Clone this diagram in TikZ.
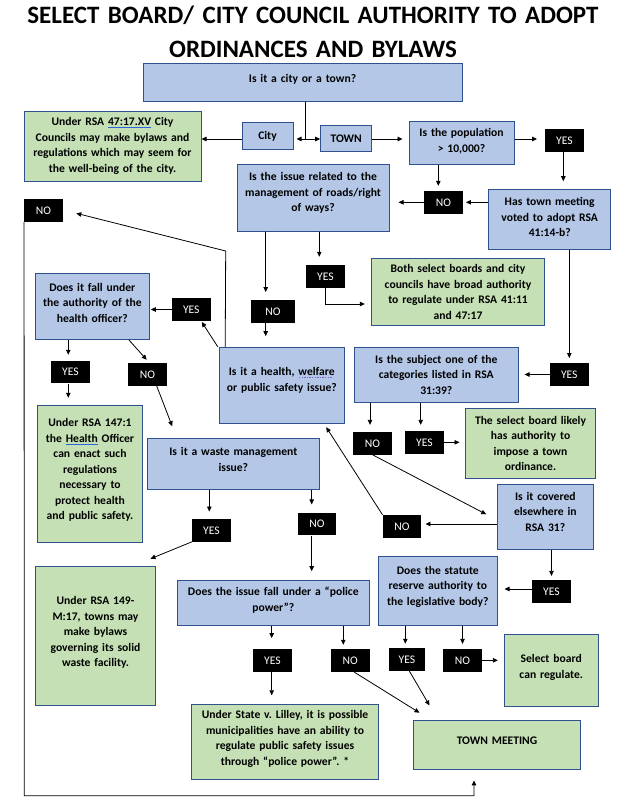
\documentclass[tikz,border=0pt]{standalone}
\usepackage{fontspec}
\setmainfont{Carlito}
\usetikzlibrary{arrows.meta}
\definecolor{qblue}{HTML}{B4C7E7}
\definecolor{agreen}{HTML}{C5E0B4}
\definecolor{bord}{HTML}{2F528F}
\definecolor{ulblue}{HTML}{2E62D9}
\definecolor{ulpurple}{HTML}{7B5FD9}
\newcommand\bodyfont{\fontsize{11.6}{15.5}\selectfont\bfseries}
\newcommand\lblfont{\fontsize{11.6}{15.5}\selectfont}
\newcommand\titlefont{\fontsize{25}{34}\selectfont\bfseries}
\newsavebox\myulbox
\newcommand\bul[1]{\sbox\myulbox{#1}\rlap{\textcolor{ulblue}{\rule[-2.2pt]{\wd\myulbox}{0.8pt}}}\usebox\myulbox}
\newcommand\dul[1]{\sbox\myulbox{#1}\rlap{\textcolor{ulpurple}{\hbox to \wd\myulbox{\leaders\hbox to 2.6pt{\hss\rule[-2.4pt]{1.4pt}{0.8pt}\hss}\hfill}}}\usebox\myulbox}
\tikzset{
  x=1pt, y=-1pt,
  basebox/.style={draw=bord, line width=1pt, inner sep=0pt, align=center, font=\bodyfont},
  qbox/.style={basebox, fill=qblue},
  abox/.style={basebox, fill=agreen},
  sz/.style n args={2}{minimum width=#1pt, minimum height=#2pt, text width=#1pt-4pt},
  bpad/.style={execute at end node={\par\vspace*{#1pt}}},
  lbl/.style={fill=black, text=white, inner sep=0pt, font=\lblfont, minimum width=38.5pt, minimum height=22.5pt},
  arr/.style={-{Triangle[length=5pt,width=4.5pt]}, line width=0.8pt},
  plain/.style={line width=0.8pt},
}
\begin{document}
\begin{tikzpicture}
\useasboundingbox (0,0) rectangle (630,802);
\fill[white] (0,0) rectangle (630,802);

\node[font=\titlefont, text width=628pt, align=center, anchor=base] (title) at (313,23.5)
  {SELECT BOARD/ CITY COUNCIL AUTHORITY TO ADOPT\\ORDINANCES AND BYLAWS};

% question / answer boxes
\node[qbox, sz={319}{38}, bpad=8] (q1) at (302.5,83) {Is it a city or a town?};
\node[qbox, minimum width=51pt, minimum height=27pt] (city) at (267.5,136.5) {City};
\node[abox, sz={177}{70}, bpad=2] (g1) at (112.5,147)
  {Under RSA \bul{47:17.XV} City\\Councils may make bylaws and\\regulations which may seem for\\the well-being of the city.};
\node[qbox, minimum width=51pt, minimum height=25.6pt] (town) at (346.2,138.5) {TOWN};
\node[qbox, sz={105}{42.6}, bpad=4] (pop) at (461.5,143) {Is the population\\> 10,000?};
\node[qbox, sz={122}{59.6}, bpad=5] (hastown) at (549.7,219.5) {Has town meeting\\voted to adopt RSA\\41:14-b?};
\node[qbox, sz={152}{66}, bpad=10] (roads) at (313,198) {Is the issue related to the\\management of roads/right\\of ways?};
\node[abox, sz={173.4}{67}] (g2) at (458,291.8) {Both select boards and city\\councils have broad authority\\to regulate under RSA 41:11\\and 47:17};
\node[qbox, sz={164}{55}] (subject) at (436.3,374.8) {Is the subject one of the\\categories listed in RSA\\31:39?};
\node[abox, sz={129.6}{70}] (g3) at (530.5,443.3) {The select board likely\\has authority to\\impose a town\\ordinance.};
\node[qbox, sz={96}{65}, bpad=10] (covered) at (545.3,516.8) {Is it covered\\elsewhere in\\RSA 31?};
\node[qbox, sz={119}{69.3}, bpad=9] (statute) at (437.8,591.3) {Does the statute\\reserve authority to\\the legislative body?};
\node[abox, sz={94.3}{71.7}, bpad=6] (select) at (551.2,670.2) {Select board\\can regulate.};
\node[abox, sz={167.4}{49.3}, bpad=9] (tm) at (497,745.3) {TOWN MEETING};
\node[qbox, sz={125}{76}, bpad=10] (health) at (281.8,385.3) {Is it a health, \dul{welfare}\\or public safety issue?};
\node[qbox, sz={114}{66}, bpad=7] (hq) at (92.3,306.3) {Does it fall under\\the authority of the\\health officer?};
\node[abox, sz={105.4}{136.7}, bpad=8] (gh) at (90,474.3)
  {Under RSA 147:1\\the \bul{Health} Officer\\can enact such\\regulations\\necessary to\\protect health\\and public safety.};
\node[qbox, sz={172}{51}, bpad=9] (waste) at (233.3,463.8) {Is it a waste management\\issue?};
\node[abox, sz={120.4}{139.3}, bpad=7] (g149) at (95.5,636.3)
  {Under RSA 149-\\M:17, towns may\\make bylaws\\governing its solid\\waste facility.};
\node[qbox, sz={192}{45}, bpad=6] (police) at (273.3,603.2) {Does the issue fall under a “police\\power”?};
\node[abox, sz={186.6}{75.3}, bpad=6] (lilley) at (285,741.7)
  {Under State v.\ Lilley, it is possible\\municipalities have an ability to\\regulate public safety issues\\through “police power”.\ *};

% YES / NO labels
\node[lbl] (yes1) at (564.5,140.5) {YES};
\node[lbl] (no1) at (443.5,202.3) {NO};
\node[lbl] (noTL) at (43.5,210.5) {NO};
\node[lbl, minimum width=44pt] (no2) at (273,311.5) {NO};
\node[lbl] (yes2) at (325.5,276.5) {YES};
\node[lbl] (yes3) at (569.3,374.5) {YES};
\node[lbl] (no3) at (372.5,443.3) {NO};
\node[lbl] (yes4) at (424.5,442.3) {YES};
\node[lbl] (no4) at (402,526.3) {NO};
\node[lbl] (yes5) at (551.5,591.3) {YES};
\node[lbl, minimum width=36pt] (yes6) at (407,659.5) {YES};
\node[lbl] (no5) at (462.5,660.3) {NO};
\node[lbl] (yes7) at (191.3,309.5) {YES};
\node[lbl] (yes8) at (70.5,372.2) {YES};
\node[lbl] (no6) at (147.5,374.5) {NO};
\node[lbl] (yes9) at (211.5,530.3) {YES};
\node[lbl] (no7) at (317,524.2) {NO};
\node[lbl] (yes10) at (272.5,660.3) {YES};
\node[lbl] (no8) at (350.3,660.5) {NO};

% connectors
\coordinate (split) at (305.7,139);
\draw[plain] (q1.south -| split) -- (split);
\draw[arr, shorten >=3pt] (split) -- (split -| city.east);
\draw[arr] (split) -- (split -| town.west);
\draw[arr] (city.west |- split) -- (split -| g1.east);
\draw[arr, shorten >=6pt] (town.east |- split) -- (split -| pop.west);
\draw[arr, shorten >=8pt] (pop.east |- split) -- (split -| yes1.west);
\draw[arr, shorten >=8pt] ([xshift=-1.2pt]yes1.south) -- ([xshift=-1.2pt]yes1.south |- hastown.north);
\draw[arr, shorten >=5pt] ([xshift=-5.2pt]no1.north |- pop.south) -- ([xshift=-5.2pt]no1.north);
\draw[arr, shorten >=3pt] (hastown.west |- no1.east) -- (no1.east);
\draw[arr, shorten >=9pt] (no1.west) -- (no1.west -| roads.east);
\draw[arr, shorten >=8pt] ([xshift=-7.3pt]no2.north |- roads.south) -- ([xshift=-7.3pt]no2.north);
\draw[arr, shorten >=10.6pt] ([xshift=-7.3pt]no2.south) -- ([xshift=-7.3pt]no2.south |- health.north);
\draw[arr, shorten >=8.3pt] ([xshift=-6.2pt]yes2.north |- roads.south) -- ([xshift=-6.2pt]yes2.north);
\draw[arr, shorten >=6pt] (yes2.south) |- ([yshift=-12.2pt]g2.west);
\draw[arr, shorten >=5pt] (yes3.north |- hastown.south) -- (yes3.north);
\draw[arr, shorten >=5.7pt] (yes3.west) -- (yes3.west -| subject.east);
\draw[arr, shorten >=7pt] ([xshift=-2.5pt]no3.north |- subject.south) -- ([xshift=-2.5pt]no3.north);
\draw[arr, shorten >=6pt] ([xshift=-3.8pt]yes4.north |- subject.south) -- ([xshift=-3.8pt]yes4.north);
\draw[arr, shorten >=5.7pt] (yes4.east) -- (yes4.east -| g3.west);
\draw[arr] (no3.south) -- ([xshift=-10.6pt,yshift=2.5pt]covered.west);
\draw[arr, shorten >=4pt] ([yshift=-7.2pt]covered.west) -- ([yshift=-7.2pt]covered.west -| no4.east);
\draw[arr] (no4.north west) -- ([xshift=-18.6pt,yshift=-3.4pt]health.south east);
\draw[arr, shorten >=4pt] (yes5.north |- covered.south) -- (yes5.north);
\draw[arr, shorten >=6.7pt] ([yshift=2.3pt]yes5.west) -- ([yshift=2.3pt]yes5.west -| statute.east);
\draw[arr, shorten >=4.3pt] ([xshift=-1.7pt]yes6.north |- statute.south) -- ([xshift=-1.7pt]yes6.north);
\draw[arr, shorten >=5pt] (no5.north |- statute.south) -- (no5.north);
\draw[arr, shorten >=5.7pt] (no5.east) -- (no5.east -| select.west);
\draw[arr] ([xshift=3.7pt]no8.south) -- ([xshift=6.7pt,yshift=7.4pt]tm.north west);
\draw[arr] ([xshift=2.3pt]yes6.south) -- ([xshift=16.7pt,yshift=14.7pt]tm.north west);
\coordinate (corner) at (24.3,795.7);
\draw[arr, shorten >=10pt] (noTL.south west) -- (corner) -| ([xshift=-23pt]tm.south);
\coordinate (bend) at (225.7,251);
\draw[arr] ([xshift=6.4pt]health.north west) -- (bend) -- ([xshift=13.3pt,yshift=-2.8pt]noTL.east);
\draw[arr] ([xshift=-1pt]health.north west) -- ([xshift=-9pt,yshift=-1pt]yes7.south east);
\draw[arr, shorten >=1pt] (yes7.west) -- (yes7.west -| hq.east);
\draw[arr, shorten >=6pt] ([xshift=-2.2pt]yes8.north |- hq.south) -- ([xshift=-2.2pt]yes8.north);
\draw[arr, shorten >=7.7pt] ([xshift=-2.2pt]yes8.south) -- ([xshift=-2.2pt]yes8.south |- gh.north);
\draw[arr] ([xshift=-21pt]hq.south east) -- ([xshift=-0.8pt,yshift=3.3pt]no6.north);
\draw[arr] ([xshift=9.2pt]no6.south) -- ([xshift=25.4pt,yshift=11.6pt]waste.north west);
\draw[arr, shorten >=7.3pt] ([xshift=-2.2pt]yes9.north |- waste.south) -- ([xshift=-2.2pt]yes9.north);
\draw[arr, shorten >=8.3pt] ([xshift=-5.3pt]no7.north |- waste.south) -- ([xshift=-5.3pt]no7.north);
\draw[arr] (yes9.south west) -- ([xshift=-5.7pt,yshift=7.4pt]g149.north east);
\draw[arr, shorten >=9pt] ([xshift=-5.3pt]no7.south) -- ([xshift=-5.3pt]no7.south |- police.north);
\draw[arr, shorten >=10.7pt] ([xshift=-0.8pt]yes10.north |- police.south) -- ([xshift=-0.8pt]yes10.north);
\draw[arr, shorten >=8.3pt] ([xshift=-0.8pt]yes10.south) -- ([xshift=-0.8pt]yes10.south |- lilley.north);
\draw[arr, shorten >=4.3pt] ([xshift=-7pt]no8.north |- police.south) -- ([xshift=-7pt]no8.north);
\end{tikzpicture}
\end{document}
